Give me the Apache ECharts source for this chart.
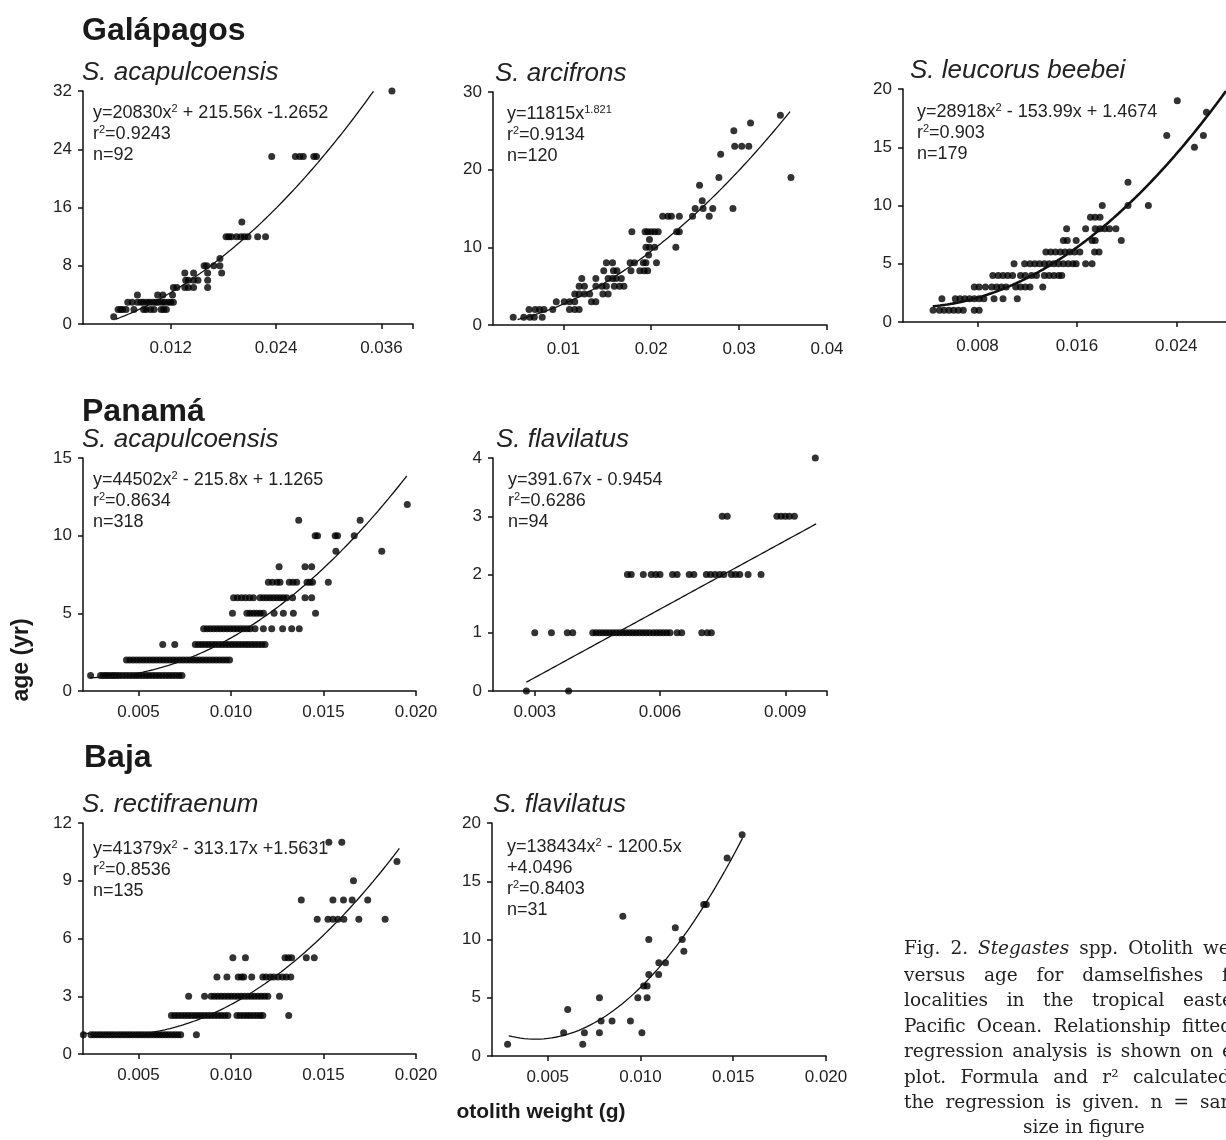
<!DOCTYPE html>
<html>
<head>
<meta charset="utf-8">
<script src="https://cdn.jsdelivr.net/npm/echarts@6/dist/echarts.min.js"></script>
<style>
  html, body { margin: 0; padding: 0; background: #fff; }
  #chart { width: 1226px; height: 1140px; }
</style>
</head>
<body>
<div id="chart"></div>
<script>
// Otolith weight (g) observations grouped by age (yr), one table per species/locality.

// Galápagos - S. acapulcoensis
const galAcapulcoensis = {
  1: [0.0055],
  2: [0.0060, 0.0063, 0.0065, 0.0069, 0.0078, 0.0089, 0.0092, 0.0097, 0.0101, 0.0109, 0.0112, 0.0115],
  3: [0.0071, 0.0076, 0.0082, 0.0086, 0.0089, 0.0093, 0.0096, 0.0100, 0.0103, 0.0106, 0.0110, 0.0113, 0.0117, 0.0120, 0.0123],
  4: [0.0082, 0.0105, 0.0111, 0.0122],
  5: [0.0123, 0.0127, 0.0136, 0.0140, 0.0146, 0.0162],
  6: [0.0137, 0.0140, 0.0146, 0.0151, 0.0162],
  7: [0.0136, 0.0146, 0.0162, 0.0178],
  8: [0.0158, 0.0161, 0.0169, 0.0176],
  9: [0.0176],
  12: [0.0183, 0.0186, 0.0189, 0.0195, 0.0200, 0.0204, 0.0208, 0.0219, 0.0228],
  14: [0.0201],
  23: [0.0235, 0.0262, 0.0267, 0.0271, 0.0283, 0.0286],
  32: [0.0372]
};

// Galápagos - S. arcifrons
const galArcifrons = {
  1: [0.0043, 0.0055, 0.0062, 0.0067, 0.0076],
  2: [0.0061, 0.0068, 0.0073, 0.0078, 0.0088, 0.0107, 0.0113, 0.0118],
  3: [0.0092, 0.0101, 0.0107, 0.0113, 0.0132, 0.0137],
  4: [0.0113, 0.0118, 0.0124, 0.0130, 0.0145, 0.0151],
  5: [0.0118, 0.0124, 0.0137, 0.0144, 0.0149, 0.0158, 0.0164, 0.0169],
  6: [0.0121, 0.0137, 0.0151, 0.0156, 0.0160, 0.0166],
  7: [0.0146, 0.0157, 0.0161, 0.0177, 0.0187, 0.0192, 0.0196],
  8: [0.0149, 0.0156, 0.0176, 0.0181, 0.0191, 0.0194, 0.0206],
  9: [0.0197],
  10: [0.0194, 0.0198, 0.0204, 0.0228],
  11: [0.0198],
  12: [0.0178, 0.0193, 0.0196, 0.0200, 0.0204, 0.0208, 0.0229, 0.0232],
  14: [0.0213, 0.0219, 0.0223, 0.0232, 0.0247, 0.0266],
  15: [0.0250, 0.0259, 0.0270, 0.0293],
  16: [0.0258],
  18: [0.0255],
  19: [0.0277, 0.0359],
  22: [0.0279],
  23: [0.0295, 0.0303, 0.0311],
  25: [0.0294],
  26: [0.0313],
  27: [0.0347]
};

// Galápagos - S. leucorus beebei
const galLeucorus = {
  1: [0.00442, 0.00493, 0.00531, 0.00570, 0.00608, 0.00646, 0.00685, 0.00774, 0.00813],
  2: [0.00513, 0.00621, 0.00659, 0.00698, 0.00736, 0.00774, 0.00813, 0.00851, 0.00933, 0.01005, 0.01120],
  3: [0.00774, 0.00813, 0.00864, 0.00915, 0.00954, 0.00992, 0.01030, 0.01107, 0.01146, 0.01184, 0.01222, 0.01325],
  4: [0.00923, 0.00966, 0.01005, 0.01043, 0.01082, 0.01146, 0.01184, 0.01235, 0.01274, 0.01338, 0.01376, 0.01414, 0.01453, 0.01478],
  5: [0.01094, 0.01179, 0.01222, 0.01261, 0.01299, 0.01338, 0.01376, 0.01414, 0.01453, 0.01491, 0.01530, 0.01568, 0.01594, 0.01670, 0.01722],
  6: [0.01350, 0.01389, 0.01427, 0.01466, 0.01504, 0.01542, 0.01581, 0.01624, 0.01742, 0.01778],
  7: [0.01491, 0.01522, 0.01594, 0.01722, 0.01747, 0.01957],
  8: [0.01517, 0.01670, 0.01747, 0.01786, 0.01824, 0.01862, 0.01914],
  9: [0.01709, 0.01747, 0.01786],
  10: [0.01804, 0.02011, 0.02175],
  12: [0.02011],
  15: [0.02546],
  16: [0.02323, 0.02618],
  18: [0.02643],
  19: [0.02408]
};

// Panamá - S. acapulcoensis
const panAcapulcoensis = {
  1: [0.00241, 0.00295, 0.00310, 0.00324, 0.00338, 0.00353, 0.00367, 0.00381, 0.00396, 0.00414, 0.00432, 0.00450, 0.00468, 0.00486,
      0.00504, 0.00522, 0.00540, 0.00557, 0.00575, 0.00593, 0.00611, 0.00629, 0.00647, 0.00665, 0.00683, 0.00701, 0.00719, 0.00735],
  2: [0.00435, 0.00453, 0.00471, 0.00489, 0.00507, 0.00525, 0.00543, 0.00561, 0.00579, 0.00597, 0.00615, 0.00633, 0.00651, 0.00669,
      0.00687, 0.00705, 0.00723, 0.00741, 0.00759, 0.00777, 0.00795, 0.00813, 0.00830, 0.00848, 0.00866, 0.00884, 0.00902, 0.00920,
      0.00938, 0.00956, 0.00974, 0.00992],
  3: [0.00631, 0.00696, 0.00807, 0.00825, 0.00843, 0.00861, 0.00879, 0.00897, 0.00915, 0.00933, 0.00951, 0.00969, 0.00987, 0.01005,
      0.01023, 0.01041, 0.01059, 0.01077, 0.01094, 0.01112, 0.01130, 0.01148, 0.01166, 0.01184],
  4: [0.00852, 0.00870, 0.00888, 0.00906, 0.00924, 0.00942, 0.00960, 0.00978, 0.00996, 0.01014, 0.01032, 0.01050, 0.01068, 0.01086,
      0.01103, 0.01130, 0.01175, 0.01220, 0.01279, 0.01328, 0.01369],
  5: [0.01008, 0.01086, 0.01103, 0.01121, 0.01139, 0.01157, 0.01175, 0.01233, 0.01283, 0.01337, 0.01457],
  6: [0.01014, 0.01035, 0.01057, 0.01078, 0.01100, 0.01121, 0.01157, 0.01175, 0.01193, 0.01211, 0.01229, 0.01247, 0.01265, 0.01283,
      0.01301, 0.01333, 0.01400, 0.01436],
  7: [0.01202, 0.01224, 0.01249, 0.01265, 0.01315, 0.01335, 0.01355, 0.01411, 0.01427, 0.01441, 0.01526],
  8: [0.01260, 0.01400, 0.01436],
  9: [0.01567, 0.01815],
  10: [0.01455, 0.01468, 0.01563, 0.01576, 0.01666],
  11: [0.01366, 0.01698],
  12: [0.01953]
};

// Panamá - S. flavilatus
const panFlavilatus = {
  0: [0.00280, 0.00381],
  1: [0.00300, 0.00340, 0.00378, 0.00391, 0.00439, 0.00447, 0.00455, 0.00463, 0.00471, 0.00479, 0.00487, 0.00495, 0.00503, 0.00511,
      0.00519, 0.00527, 0.00535, 0.00543, 0.00551, 0.00559, 0.00567, 0.00575, 0.00584, 0.00592, 0.00600, 0.00608, 0.00616, 0.00624,
      0.00641, 0.00652, 0.00700, 0.00713, 0.00723],
  2: [0.00522, 0.00531, 0.00560, 0.00579, 0.00590, 0.00600, 0.00630, 0.00641, 0.00670, 0.00681, 0.00711, 0.00721, 0.00732, 0.00743,
      0.00753, 0.00771, 0.00781, 0.00791, 0.00811, 0.00842],
  3: [0.00749, 0.00761, 0.00880, 0.00890, 0.00900, 0.00910, 0.00922],
  4: [0.00972]
};

// Baja - S. rectifraenum
const bajaRectifraenum = {
  1: [0.00202, 0.00243, 0.00259, 0.00276, 0.00292, 0.00308, 0.00324, 0.00340, 0.00356, 0.00372, 0.00389, 0.00405, 0.00421, 0.00437,
      0.00453, 0.00469, 0.00486, 0.00502, 0.00518, 0.00534, 0.00550, 0.00566, 0.00583, 0.00599, 0.00615, 0.00631, 0.00647, 0.00663,
      0.00680, 0.00696, 0.00712, 0.00728, 0.00813],
  2: [0.00678, 0.00696, 0.00714, 0.00732, 0.00750, 0.00768, 0.00786, 0.00804, 0.00821, 0.00839, 0.00857, 0.00875, 0.00893, 0.00911,
      0.00929, 0.00947, 0.00965, 0.00983, 0.01032, 0.01050, 0.01068, 0.01086, 0.01103, 0.01121, 0.01139, 0.01157, 0.01172, 0.01312],
  3: [0.00771, 0.00857, 0.00893, 0.00911, 0.00929, 0.00947, 0.00965, 0.00983, 0.01001, 0.01019, 0.01037, 0.01055, 0.01073, 0.01091,
      0.01109, 0.01127, 0.01145, 0.01163, 0.01181, 0.01199, 0.01262],
  4: [0.00924, 0.00978, 0.01039, 0.01057, 0.01069, 0.01112, 0.01172, 0.01190, 0.01213, 0.01231, 0.01254, 0.01278, 0.01299, 0.01323],
  5: [0.01010, 0.01078, 0.01292, 0.01310, 0.01328, 0.01407, 0.01450],
  7: [0.01466, 0.01524, 0.01551, 0.01578, 0.01610, 0.01691, 0.01833],
  8: [0.01380, 0.01551, 0.01608, 0.01655, 0.01739],
  9: [0.01662],
  10: [0.01897],
  11: [0.01529, 0.01599]
};

// Baja - S. flavilatus
const bajaFlavilatus = {
  1: [0.00284, 0.00689],
  2: [0.00586, 0.00698, 0.00779, 0.01008],
  3: [0.00788, 0.00847, 0.00946],
  4: [0.00608],
  5: [0.00779, 0.00986, 0.01036],
  6: [0.01017, 0.01036],
  7: [0.01045, 0.01098],
  8: [0.01099, 0.01135],
  9: [0.01234],
  10: [0.01045, 0.01225],
  11: [0.01188],
  12: [0.00905],
  13: [0.01341, 0.01355],
  17: [0.01467],
  19: [0.01548]
};

// Fitted regressions as printed on each panel
const fitGalAcapulcoensis = [20830, 215.56, -1.2652];
const fitGalArcifrons = [11815, 1.821];
const fitGalLeucorus = [28918, -153.99, 1.4674];
const fitPanAcapulcoensis = [44502, -215.8, 1.1265];
const fitPanFlavilatus = [391.67, -0.9454];
const fitBajaRectifraenum = [41379, -313.17, 1.5631];
const fitBajaFlavilatus = [138434, -1200.5, 4.0496];

const quad = c => x => c[0] * x * x + c[1] * x + c[2];
const power = c => x => c[0] * Math.pow(x, c[1]);
const linear = c => x => c[0] * x + c[1];

const SANS = '"Liberation Sans", Arial, Helvetica, sans-serif';
const SERIF = '"DejaVu Serif", "Liberation Serif", serif';
const INK = '#111';

const panels = [
  { data: galAcapulcoensis, grid: { left: 83, top: 91, width: 330, height: 233 },
    x: [0.002, 0.0396], xLabels: [0.012, 0.024, 0.036], xTicks: [0.012, 0.024, 0.036, 0.0396], dec: 3, labelGap: 16,
    y: [0, 32], yStep: 8, fit: quad(fitGalAcapulcoensis), fitRange: [0.00575, 0.0351], fitWidth: 1.3,
    title: 'S. acapulcoensis', titleX: 82,
    eq: [['y=20830x', '2', ' + 215.56x -1.2652'], ['r', '2', '=0.9243'], ['n=92']], eqX: 93, eqY: 113 },
  { data: galArcifrons, grid: { left: 493, top: 92, width: 334, height: 233 },
    x: [0.002, 0.04], xLabels: [0.01, 0.02, 0.03, 0.04], xTicks: [0.01, 0.02, 0.03, 0.04], dec: 2, labelGap: 16,
    y: [0, 30], yStep: 10, fit: power(fitGalArcifrons), fitRange: [0.0048, 0.0358], fitWidth: 1.3,
    title: 'S. arcifrons', titleX: 495,
    eq: [['y=11815x', '1.821', ''], ['r', '2', '=0.9134'], ['n=120']], eqX: 507, eqY: 114 },
  { data: galLeucorus, grid: { left: 903, top: 89, width: 339.6, height: 233 },
    x: [0.002, 0.028], xLabels: [0.008, 0.016, 0.024], xTicks: [0.008, 0.016, 0.024], dec: 3, labelGap: 16,
    y: [0, 20], yStep: 5, fit: quad(fitGalLeucorus), fitRange: [0.0044, 0.028], fitWidth: 2.6,
    title: 'S. leucorus beebei', titleX: 910,
    eq: [['y=28918x', '2', ' - 153.99x + 1.4674'], ['r', '2', '=0.903'], ['n=179']], eqX: 917, eqY: 112 },
  { data: panAcapulcoensis, grid: { left: 83, top: 458, width: 333, height: 233 },
    x: [0.002, 0.02], xLabels: [0.005, 0.01, 0.015, 0.02], xTicks: [0.005, 0.01, 0.015, 0.02], dec: 3, labelGap: 13,
    y: [0, 15], yStep: 5, fit: quad(fitPanAcapulcoensis), fitRange: [0.0024, 0.0195], fitWidth: 1.3,
    title: 'S. acapulcoensis', titleX: 82,
    eq: [['y=44502x', '2', ' - 215.8x + 1.1265'], ['r', '2', '=0.8634'], ['n=318']], eqX: 93, eqY: 480 },
  { data: panFlavilatus, grid: { left: 493, top: 458, width: 334, height: 233 },
    x: [0.002, 0.01], xLabels: [0.003, 0.006, 0.009], xTicks: [0.003, 0.006, 0.009, 0.01], dec: 3, labelGap: 13,
    y: [0, 4], yStep: 1, fit: linear(fitPanFlavilatus), fitRange: [0.0028, 0.00974], fitWidth: 1.3,
    title: 'S. flavilatus', titleX: 496,
    eq: [['y=391.67x - 0.9454'], ['r', '2', '=0.6286'], ['n=94']], eqX: 508, eqY: 480 },
  { data: bajaRectifraenum, grid: { left: 83, top: 823, width: 333, height: 231 },
    x: [0.002, 0.02], xLabels: [0.005, 0.01, 0.015, 0.02], xTicks: [0.005, 0.01, 0.015, 0.02], dec: 3, labelGap: 13,
    y: [0, 12], yStep: 3, fit: quad(fitBajaRectifraenum), fitRange: [0.002, 0.0191], fitWidth: 1.3,
    title: 'S. rectifraenum', titleX: 82,
    eq: [['y=41379x', '2', ' - 313.17x +1.5631'], ['r', '2', '=0.8536'], ['n=135']], eqX: 93, eqY: 849 },
  { data: bajaFlavilatus, grid: { left: 492, top: 823, width: 334, height: 233 },
    x: [0.002, 0.02], xLabels: [0.005, 0.01, 0.015, 0.02], xTicks: [0.005, 0.01, 0.015, 0.02], dec: 3, labelGap: 13,
    y: [0, 20], yStep: 5, fit: quad(fitBajaFlavilatus), fitRange: [0.0029, 0.0155], fitWidth: 1.3,
    title: 'S. flavilatus', titleX: 493,
    eq: [['y=138434x', '2', ' - 1200.5x'], ['+4.0496'], ['r', '2', '=0.8403'], ['n=31']], eqX: 507, eqY: 847 }
];

function toPoints(byAge) {
  const pts = [];
  Object.keys(byAge).forEach(age => byAge[age].forEach(w => pts.push([w, Number(age)])));
  return pts;
}

function curve(fn, range) {
  const pts = [];
  const n = 120;
  for (let i = 0; i <= n; i++) {
    const x = range[0] + (range[1] - range[0]) * i / n;
    pts.push([x, fn(x)]);
  }
  return pts;
}

const grids = [], xAxes = [], yAxes = [], series = [], graphics = [];

panels.forEach((p, i) => {
  grids.push(Object.assign({ containLabel: false }, p.grid));
  xAxes.push({
    gridIndex: i, type: 'value', min: p.x[0], max: p.x[1],
    axisLine: { show: true, onZero: false, lineStyle: { color: INK, width: 1.5 } },
    axisTick: { show: true, customValues: p.xTicks, length: 5, lineStyle: { color: INK, width: 1.5 } },
    axisLabel: { customValues: p.xLabels, formatter: v => v.toFixed(p.dec), fontFamily: SANS, fontSize: 17, color: '#222', margin: p.labelGap },
    splitLine: { show: false }
  });
  yAxes.push({
    gridIndex: i, type: 'value', min: p.y[0], max: p.y[1], interval: p.yStep,
    axisLine: { show: true, onZero: false, lineStyle: { color: INK, width: 1.5 } },
    axisTick: { show: true, length: 5, lineStyle: { color: INK, width: 1.5 } },
    axisLabel: { fontFamily: SANS, fontSize: 17, color: '#222', margin: 11 },
    splitLine: { show: false }
  });
  series.push({
    type: 'scatter', xAxisIndex: i, yAxisIndex: i, data: toPoints(p.data),
    symbol: 'circle', symbolSize: 7, itemStyle: { color: '#000' }, silent: true, clip: true
  });
  series.push({
    type: 'line', xAxisIndex: i, yAxisIndex: i, data: curve(p.fit, p.fitRange),
    showSymbol: false, smooth: false, lineStyle: { color: INK, width: p.fitWidth }, silent: true, clip: true
  });

  // species name
  graphics.push({
    type: 'text', left: p.titleX, top: p.grid.top - 31,
    style: { text: p.title, font: 'italic 26px ' + SANS, fill: '#222' }
  });
  // regression equation, r² and sample size
  p.eq.forEach((line, k) => {
    let txt;
    if (line.length === 3) {
      txt = '{t|' + line[0] + '}{s|' + line[1] + '}' + (line[2] ? '{t|' + line[2] + '}' : '');
    } else {
      txt = '{t|' + line[0] + '}';
    }
    graphics.push({
      type: 'text', x: p.eqX, y: p.eqY + k * 21,
      style: {
        text: txt, fill: '#222', verticalAlign: 'middle', align: 'left',
        rich: {
          t: { fontFamily: SANS, fontSize: 18, fill: '#222', lineHeight: 19 },
          s: { fontFamily: SANS, fontSize: 11, fill: '#222', verticalAlign: 'top', lineHeight: 19 }
        }
      }
    });
  });
});

// locality headings
[['Galápagos', 82, 31], ['Panamá', 82, 412], ['Baja', 84, 758]].forEach(h => {
  graphics.push({
    type: 'text', x: h[1], y: h[2],
    style: { text: h[0], font: 'bold 32px ' + SANS, fill: '#1a1a1a', verticalAlign: 'middle' }
  });
});

// shared axis names
graphics.push({
  type: 'text', x: 22, y: 660, rotation: Math.PI / 2,
  style: { text: 'age (yr)', font: 'bold 23px ' + SANS, fill: '#1a1a1a', align: 'center', verticalAlign: 'middle' }
});
graphics.push({
  type: 'text', x: 541, y: 1112,
  style: { text: 'otolith weight (g)', font: 'bold 21px ' + SANS, fill: '#1a1a1a', align: 'center', verticalAlign: 'middle' }
});

// Figure caption: each line is justified between its first word (x = 904)
// and the start of its last word, with equal gaps between words.
const CAPTION_FONT = '18.5px ' + SERIF;
const CAPTION_ITALIC = 'italic 18.5px ' + SERIF;
const captionLines = [
  { y: 949, end: 1203, words: ['Fig.', '2.', '*Stegastes', 'spp.', 'Otolith', 'weight'] },
  { y: 976, end: 1222, words: ['versus', 'age', 'for', 'damselfishes', 'from'] },
  { y: 1001, end: 1183, words: ['localities', 'in', 'the', 'tropical', 'eastern'] },
  { y: 1027, end: 1182, words: ['Pacific', 'Ocean.', 'Relationship', 'fitted'] },
  { y: 1052, end: 1222, words: ['regression', 'analysis', 'is', 'shown', 'on', 'each'] },
  { y: 1078, end: 1133, words: ['plot.', 'Formula', 'and', 'r²', 'calculated'] },
  { y: 1103, end: 1200, words: ['the', 'regression', 'is', 'given.', 'n', '=', 'sample'] }
];
const measureCtx = document.createElement('canvas').getContext('2d');
captionLines.forEach(line => {
  const words = line.words.map(w => {
    const italic = w.charAt(0) === '*';
    const text = italic ? w.slice(1) : w;
    measureCtx.font = italic ? CAPTION_ITALIC : CAPTION_FONT;
    return { text, italic, width: measureCtx.measureText(text).width };
  });
  const startX = 904;
  const inner = words.slice(0, -1).reduce((s, w) => s + w.width, 0);
  const gap = (line.end - startX - inner) / (words.length - 1);
  let x = startX;
  words.forEach(w => {
    graphics.push({
      type: 'text', x: x, y: line.y,
      style: { text: w.text, font: w.italic ? CAPTION_ITALIC : CAPTION_FONT, fill: '#222', verticalAlign: 'middle' }
    });
    x += w.width + gap;
  });
});
graphics.push({
  type: 'text', x: 1023, y: 1128,
  style: { text: 'size in figure', font: CAPTION_FONT, fill: '#222', verticalAlign: 'middle' }
});

const chart = echarts.init(document.getElementById('chart'), null, { renderer: 'canvas' });
chart.setOption({
  animation: false,
  backgroundColor: '#fff',
  grid: grids,
  xAxis: xAxes,
  yAxis: yAxes,
  series: series,
  graphic: graphics
});
</script>
</body>
</html>
